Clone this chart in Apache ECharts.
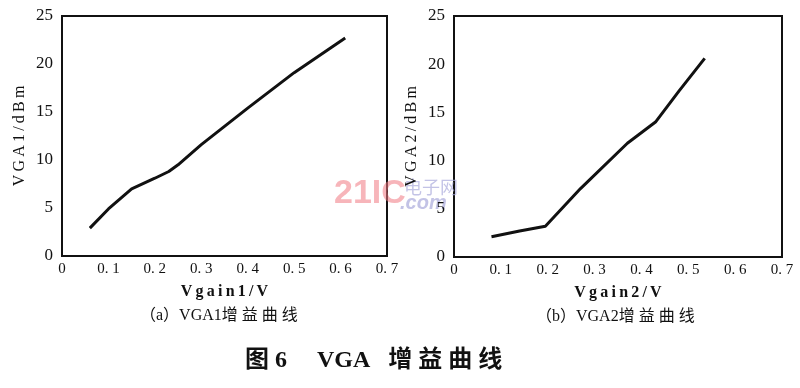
<!DOCTYPE html>
<html><head><meta charset="utf-8">
<script src="https://cdn.jsdelivr.net/npm/echarts@6/dist/echarts.min.js"></script>
<style>html,body{margin:0;padding:0;background:#fff}#c{width:800px;height:388px}</style>
</head><body><div id="c"></div>
<script>
const vgain1 = [0.06, 0.10, 0.15, 0.20, 0.23, 0.25, 0.30, 0.40, 0.50, 0.61];
const vga1 = [2.9, 4.9, 7.0, 8.1, 8.8, 9.5, 11.6, 15.4, 19.1, 22.7];
const vgain2 = [0.08, 0.14, 0.195, 0.27, 0.37, 0.43, 0.48, 0.535];
const vga2 = [2.1, 2.7, 3.2, 7.1, 11.8, 14.0, 17.2, 20.6];
const xTicks = [0, 0.1, 0.2, 0.3, 0.4, 0.5, 0.6, 0.7];
const yTicks = [0, 5, 10, 15, 20, 25];
const titles = ['图 6     VGA   增 益 曲 线', '（a）VGA1增 益 曲 线', '（b）VGA2增 益 曲 线'];
const xNames = ['Vgain1/V', 'Vgain2/V'];
const yNames = ['VGA1/dBm', 'VGA2/dBm'];

const serif = '"Liberation Serif","DejaVu Serif",serif';
const cjk = '"Liberation Serif","Noto Sans CJK SC",serif';
const sp = s => s.split('').join('\u2009');
const chart = echarts.init(document.getElementById('c'));
const grids = [
  {left: 62, top: 16, width: 325, height: 240},
  {left: 454, top: 16, width: 328, height: 241}
];
function xAx(i){return {gridIndex:i,type:'value',min:0,max:0.7,interval:0.1,
  name:sp(xNames[i]),nameLocation:'middle',nameGap:28,
  nameTextStyle:{fontFamily:serif,fontSize:16,fontWeight:'bold',color:'#111'},
  axisLine:{show:false},axisTick:{show:false},splitLine:{show:false},
  axisLabel:{fontFamily:serif,fontSize:15,color:'#111',margin:6,formatter:v=>v===0?'0':v.toFixed(1).replace('.','. ')}};}
function yAx(i){return {gridIndex:i,type:'value',min:0,max:25,interval:5,
  name:sp(yNames[i]),nameLocation:'middle',nameGap:34,
  nameTextStyle:{fontFamily:serif,fontSize:16,color:'#111'},
  axisLine:{show:false},axisTick:{show:false},splitLine:{show:false},
  axisLabel:{fontFamily:serif,fontSize:17,color:'#111',margin:9}};}
chart.setOption({
  animation:false,
  grid: grids.map(g=>Object.assign({show:true,borderColor:'#111',borderWidth:2,backgroundColor:'transparent'},g)),
  xAxis:[xAx(0),xAx(1)],
  yAxis:[yAx(0),yAx(1)],
  series:[
    {type:'line',xAxisIndex:0,yAxisIndex:0,data:vgain1.map((x,i)=>[x,vga1[i]]),showSymbol:false,lineStyle:{color:'#111',width:3},smooth:false},
    {type:'line',xAxisIndex:1,yAxisIndex:1,data:vgain2.map((x,i)=>[x,vga2[i]]),showSymbol:false,lineStyle:{color:'#111',width:3},smooth:false}
  ],
  graphic:[
    {type:'text',left:245,top:349,style:{text:titles[0],font:'bold 24px '+cjk,fill:'#111'}},
    {type:'text',left:140,top:308,style:{text:titles[1],font:'16px '+cjk,fill:'#111'}},
    {type:'text',left:536,top:309,style:{text:titles[2],font:'16px '+cjk,fill:'#111'}},
    {type:'text',left:334,top:177,style:{text:'21IC',font:'bold 34px "Liberation Sans",sans-serif',fill:'rgba(240,120,130,0.55)'}},
    {type:'text',left:404,top:178,style:{text:'电子网',font:'18px "Noto Sans CJK SC",sans-serif',fill:'rgba(170,170,220,0.7)'}},
    {type:'text',left:400,top:193,style:{text:'.com',font:'italic bold 20px "Liberation Sans",sans-serif',fill:'rgba(170,170,220,0.7)'}}
  ]
});
</script></body></html>
